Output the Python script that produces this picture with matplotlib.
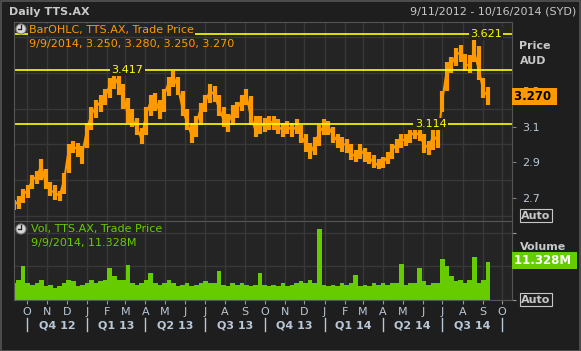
import pandas as pd
import matplotlib
matplotlib.use("Agg")
import matplotlib.pyplot as plt
from matplotlib.patches import Ellipse, Rectangle
from matplotlib.lines import Line2D

# weekly readings, first point 9/11/2012, last 9/9/2014
close = [2.66, 2.68, 2.72, 2.74, 2.80, 2.82, 2.88, 2.78, 2.74, 2.73,
         2.71, 2.80, 2.97, 2.99, 2.97, 2.95, 3.08, 3.17, 3.21, 3.24,
         3.27, 3.33, 3.38, 3.33, 3.28, 3.16, 3.14, 3.09, 3.03, 3.17,
         3.24, 3.25, 3.18, 3.28, 3.35, 3.38, 3.32, 3.20, 3.12, 3.05,
         3.12, 3.20, 3.24, 3.30, 3.28, 3.20, 3.14, 3.12, 3.18, 3.20,
         3.25, 3.28, 3.15, 3.08, 3.12, 3.10, 3.13, 3.12, 3.10, 3.08,
         3.10, 3.08, 3.10, 3.05, 3.00, 2.95, 3.00, 3.07, 3.10, 3.10,
         3.05, 3.02, 3.00, 3.00, 2.95, 2.93, 2.97, 2.94, 2.92, 2.90,
         2.88, 2.90, 2.93, 2.97, 3.00, 3.03, 3.02, 3.05, 3.07, 3.05,
         3.00, 2.98, 3.05, 3.02, 3.25, 3.42, 3.45, 3.50, 3.52, 3.45,
         3.44, 3.52, 3.42, 3.30, 3.27]

high = [2.69, 2.71, 2.75, 2.77, 2.83, 2.85, 2.92, 2.86, 2.79, 2.77,
        2.74, 2.84, 3.00, 3.02, 3.01, 2.99, 3.12, 3.21, 3.25, 3.28,
        3.31, 3.37, 3.417, 3.39, 3.34, 3.26, 3.20, 3.15, 3.09, 3.21,
        3.28, 3.29, 3.25, 3.31, 3.38, 3.41, 3.38, 3.30, 3.20, 3.12,
        3.16, 3.23, 3.28, 3.34, 3.33, 3.28, 3.21, 3.17, 3.22, 3.24,
        3.28, 3.31, 3.27, 3.16, 3.16, 3.15, 3.16, 3.16, 3.14, 3.12,
        3.13, 3.12, 3.14, 3.11, 3.06, 3.01, 3.04, 3.11, 3.14, 3.13,
        3.10, 3.06, 3.04, 3.03, 3.00, 2.97, 3.00, 2.98, 2.96, 2.94,
        2.92, 2.93, 2.96, 3.00, 3.03, 3.06, 3.06, 3.08, 3.10, 3.114,
        3.06, 3.02, 3.10, 3.12, 3.30, 3.46, 3.49, 3.54, 3.56, 3.51,
        3.50, 3.621, 3.55, 3.37, 3.32]

low = [2.63, 2.64, 2.67, 2.70, 2.75, 2.78, 2.80, 2.75, 2.71, 2.69,
       2.68, 2.72, 2.84, 2.95, 2.93, 2.89, 2.98, 3.08, 3.15, 3.18,
       3.22, 3.26, 3.31, 3.28, 3.20, 3.12, 3.10, 3.05, 3.00, 3.05,
       3.16, 3.19, 3.14, 3.18, 3.27, 3.32, 3.28, 3.16, 3.08, 3.01,
       3.04, 3.11, 3.18, 3.23, 3.24, 3.16, 3.10, 3.07, 3.11, 3.15,
       3.19, 3.22, 3.11, 3.04, 3.06, 3.07, 3.08, 3.08, 3.06, 3.04,
       3.06, 3.04, 3.06, 3.01, 2.96, 2.92, 2.94, 2.99, 3.05, 3.05,
       3.01, 2.98, 2.96, 2.95, 2.91, 2.90, 2.92, 2.90, 2.89, 2.87,
       2.86, 2.87, 2.89, 2.92, 2.95, 2.98, 2.99, 3.01, 3.03, 3.02,
       2.95, 2.94, 2.97, 2.98, 3.18, 3.30, 3.40, 3.44, 3.46, 3.41,
       3.40, 3.46, 3.36, 3.26, 3.22]

volume = [5, 6, 10, 5, 4.5, 5, 6, 4, 4.5, 3.5,
          4, 5, 6, 5.5, 4, 4.5, 5, 6, 5, 5.5,
          6, 9.5, 7, 6, 6, 10.3, 5, 4.5, 5, 6,
          8, 5, 4.5, 5, 6, 5, 4, 4.5, 5, 4,
          4.5, 5, 5.5, 5, 5, 8.5, 4.5, 4, 5, 4.5,
          5, 4.5, 4, 4.5, 8, 4.5, 4, 4.5, 4, 5,
          4, 4.5, 5, 5.5, 5, 6, 5, 21, 4.5, 4,
          4.5, 4, 5, 4.5, 5, 7.5, 4, 4.5, 4, 5,
          4.5, 5, 4.5, 5, 5, 10.6, 4.5, 5, 5, 9.5,
          5.5, 4.5, 5, 5, 12, 10, 7, 5.5, 6, 5,
          6, 12.8, 5, 6, 11.328]

hlines = [3.621, 3.417, 3.114]
hline_label_dates = ["2014-09-06", "2013-03-04", "2014-06-13"]
price_ticks = [2.7, 2.8, 2.9, 3.0, 3.1, 3.2, 3.3, 3.4]
month_letters = "ONDJFMAMJJASONDJFMAMJJASO"
quarters = ["Q4 12", "Q1 13", "Q2 13", "Q3 13", "Q4 13", "Q1 14", "Q2 14", "Q3 14"]

dates = pd.date_range("2012-09-11", periods=len(close), freq="7D")
months = pd.date_range("2012-10-01", "2014-10-01", freq="MS")
qstarts = pd.date_range("2012-10-01", "2014-10-01", freq="QS")

BG = "#1e1e1e"
PANEL = "#242424"
GRID = "#383838"
TXT = "#c8c8c8"
TICK = "#b9c8d8"
ORANGE = "#ff9900"
GREEN = "#66cc00"
YELLOW = "#ffff00"

W, H = 581, 351
fig = plt.figure(figsize=(5.81, 3.51), dpi=100, facecolor=BG)
ax = fig.add_axes([14 / W, 1 - 221 / H, 498 / W, 199 / H], facecolor=PANEL)
axv = fig.add_axes([14 / W, 1 - 300 / H, 498 / W, 79 / H], facecolor=PANEL, sharex=ax)

xmin, xmax = pd.Timestamp("2012-09-11"), pd.Timestamp("2014-10-16")
for a in (ax, axv):
    a.set_xlim(xmin, xmax)
    a.set_xticks(months)
    a.set_axisbelow(True)
    for s in a.spines.values():
        s.set_color("#555555")
    a.yaxis.tick_right()
ax.tick_params(axis="x", length=0, labelbottom=False)
axv.tick_params(axis="x", direction="out", length=3, colors="#999999", labelbottom=False)

# price panel
ax.set_ylim(2.57, 3.687)
ax.set_yticks([2.6, 2.8, 3.0, 3.2, 3.4, 3.6])
ax.set_yticks(price_ticks + [2.6], minor=True)
ax.grid(True, which="major", color=GRID, linewidth=1)
ax.tick_params(axis="y", which="major", length=0, labelright=False)
ax.tick_params(axis="y", which="minor", direction="out", length=3, colors="#999999",
               labelcolor=TICK, labelsize=8, pad=4)
ax.set_yticklabels(["%g" % t for t in price_ticks] + [""], minor=True)
ax.vlines(dates, low, high, color=ORANGE, linewidth=3.0)
ax.plot(dates, close, color=ORANGE, linewidth=1.5)

for lvl, d in zip(hlines, hline_label_dates):
    ax.axhline(lvl, color=YELLOW, linewidth=1.2)
    ax.text(pd.Timestamp(d), lvl, "%.3f" % lvl, color=YELLOW, fontsize=8,
            ha="center", va="center",
            bbox=dict(facecolor=PANEL, edgecolor="none", pad=1))

ax.text(15 / 498, 1 - 8 / 199, "BarOHLC, TTS.AX, Trade Price", transform=ax.transAxes,
        color=ORANGE, fontsize=8, va="center", ha="left",
        bbox=dict(facecolor=PANEL, edgecolor="none", pad=0.5))
ax.text(15 / 498, 1 - 22 / 199, "9/9/2014, 3.250, 3.280, 3.250, 3.270",
        transform=ax.transAxes, color=ORANGE, fontsize=8, va="center", ha="left")

yt = ax.get_yaxis_transform()
ax.text(1.015, 3.552, "Price", transform=yt, color=TXT,
        fontsize=8, fontweight="bold", va="center")
ax.text(1.015, 3.467, "AUD", transform=yt, color=TXT,
        fontsize=8, fontweight="bold", va="center")
ax.text(1.004, close[-1], "3.270 ", transform=yt, color="black",
        fontsize=8.5, fontweight="bold", va="center", ha="left", zorder=10,
        bbox=dict(facecolor=ORANGE, edgecolor="none", pad=1.5))
ax.text(1.018, 2.6, "Auto", transform=yt, color=TXT,
        fontsize=8, fontweight="bold", va="center",
        bbox=dict(facecolor=BG, edgecolor="#c8c8c8", pad=1, linewidth=0.8))

# volume panel
axv.bar(dates, volume, width=7, color=GREEN, linewidth=0, align="center")
axv.set_ylim(-0.1, 23.5)
axv.set_yticks([0, 10, 20])
axv.grid(True, color=GRID, linewidth=1)
axv.tick_params(axis="y", direction="out", length=3, colors="#999999", labelright=False)
axv.text(17 / 498, 1 - 8 / 79, "Vol, TTS.AX, Trade Price", transform=axv.transAxes,
         color=GREEN, fontsize=8, va="center", ha="left")
axv.text(17 / 498, 1 - 22 / 79, "9/9/2014, 11.328M", transform=axv.transAxes,
         color=GREEN, fontsize=8, va="center", ha="left")
vt = axv.get_yaxis_transform()
axv.text(1.015, 15.8, "Volume", transform=vt, color=TXT,
         fontsize=8, fontweight="bold", va="center")
axv.text(1.004, 11.7, "11.328M ", transform=vt, color="white",
         fontsize=8.5, fontweight="bold", va="center", ha="left",
         bbox=dict(facecolor=GREEN, edgecolor="none", pad=1.5))
axv.text(1.018, 0, "Auto", transform=vt, color=TXT,
         fontsize=8, fontweight="bold", va="center",
         bbox=dict(facecolor=BG, edgecolor="#c8c8c8", pad=1, linewidth=0.8))

# bottom date labels
xt = axv.get_xaxis_transform()
for m, letter in zip(months, month_letters):
    axv.text(m, -12 / 79, letter, transform=xt, color=TICK, fontsize=8,
             ha="center", va="center")
for q in qstarts:
    axv.plot([q, q], [-18 / 79, -31 / 79], transform=xt, color=TICK,
             linewidth=1, clip_on=False)
for q0, q1, lab in zip(qstarts[:-1], qstarts[1:], quarters):
    axv.text(q0 + (q1 - q0) / 2, -25 / 79, lab, transform=xt, color=TICK,
             fontsize=8, fontweight="bold", ha="center", va="center")

# header
fig.text(9 / W, 1 - 12 / H, "Daily TTS.AX", color=TXT, fontsize=8, fontweight="bold",
         va="center", ha="left")
fig.text(576 / W, 1 - 12 / H, "9/11/2012 - 10/16/2014 (SYD)", color=TXT, fontsize=8,
         va="center", ha="right")

# clock icons
for cy in (29, 229):
    fig.add_artist(Ellipse((21 / W, 1 - cy / H), 10 / W, 10 / H, facecolor="#d8d8d8",
                           edgecolor="#808080", linewidth=0.8, transform=fig.transFigure))
    fig.add_artist(Line2D([21 / W, 21 / W], [1 - cy / H, 1 - (cy - 4) / H], color="#202020",
                          linewidth=0.9, transform=fig.transFigure))
    fig.add_artist(Line2D([21 / W, 18 / W], [1 - cy / H, 1 - cy / H], color="#202020",
                          linewidth=0.9, transform=fig.transFigure))

# outer frame
fig.add_artist(Rectangle((0.5 / W, 0.5 / H), 1 - 1.5 / W, 1 - 1.5 / H, fill=False,
                         edgecolor="#555555", linewidth=1.2, transform=fig.transFigure))

fig.savefig("out.png", dpi=100, facecolor=BG)
